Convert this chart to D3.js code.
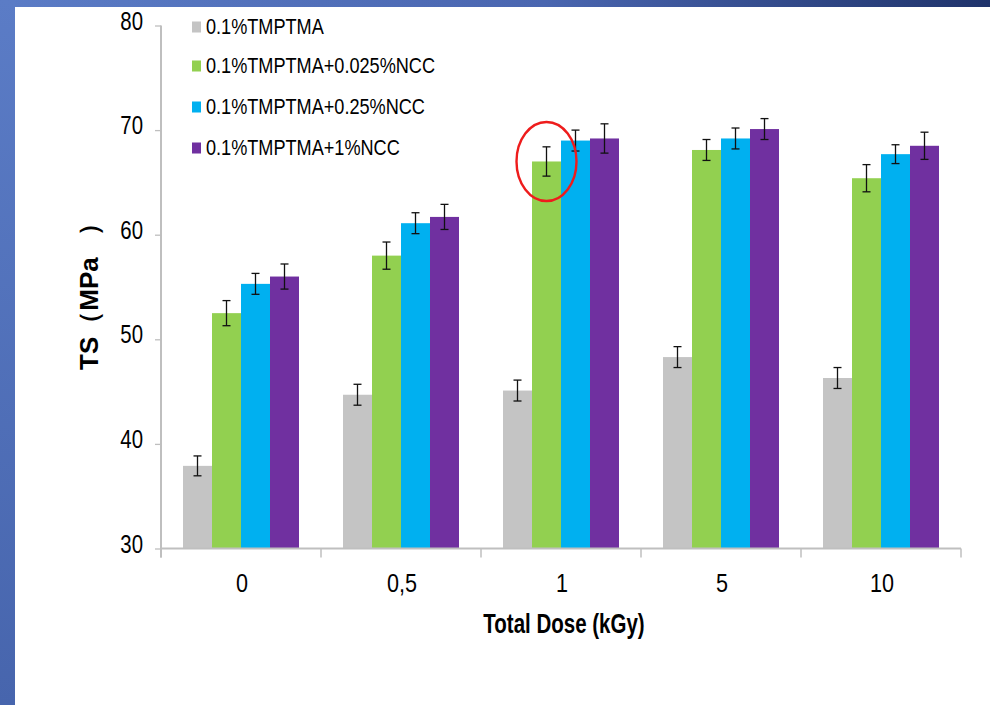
<!DOCTYPE html>
<html>
<head>
<meta charset="utf-8">
<script src="https://cdn.jsdelivr.net/npm/d3@7"></script>
<style>
  html, body { margin: 0; padding: 0; background: #fff; }
  svg { display: block; }
  text { font-family: "Liberation Sans", Arial, sans-serif; fill: #000; }
</style>
</head>
<body>
<svg id="chart" width="990" height="705"></svg>
<script>
// Tensile strength vs. total irradiation dose
const categories = ["0", "0,5", "1", "5", "10"];
const seriesNames = [
  "0.1%TMPTMA",
  "0.1%TMPTMA+0.025%NCC",
  "0.1%TMPTMA+0.25%NCC",
  "0.1%TMPTMA+1%NCC"
];
const seriesColors = ["#c4c4c4", "#92d050", "#00b0f0", "#7030a0"];
// mean TS (MPa) per series, one value per dose
const tmptma      = [37.9, 44.7, 45.1, 48.3, 46.3];
const ncc0025     = [52.5, 58.0, 67.0, 68.1, 65.4];
const ncc025      = [55.3, 61.1, 69.0, 69.2, 67.7];
const ncc1        = [56.0, 61.7, 69.2, 70.1, 68.5];
// standard deviations
const tmptmaErr   = [0.95, 1.0, 1.0, 1.0, 1.0];
const ncc0025Err  = [1.2, 1.3, 1.4, 1.0, 1.3];
const ncc025Err   = [1.0, 1.0, 1.0, 1.0, 0.9];
const ncc1Err     = [1.2, 1.2, 1.4, 1.0, 1.3];
const yTicks = [30, 40, 50, 60, 70, 80];
const xTitle = "Total Dose (kGy)";
const yTitleParts = ["TS（MPa", " ）"];
// highlighted bar: dose "1", second series
const highlight = { category: "1", series: 1 };

const values = [tmptma, ncc0025, ncc025, ncc1];
const errors = [tmptmaErr, ncc0025Err, ncc025Err, ncc1Err];

const svg = d3.select("#chart");

// slide frame
const defs = svg.append("defs");
const gTop = defs.append("linearGradient").attr("id", "frameTop")
  .attr("x1", 0).attr("x2", 1).attr("y1", 0).attr("y2", 0);
gTop.append("stop").attr("offset", 0).attr("stop-color", "#5b7cc6");
gTop.append("stop").attr("offset", 0.55).attr("stop-color", "#4a66b0");
gTop.append("stop").attr("offset", 1).attr("stop-color", "#1f336b");
const gLeft = defs.append("linearGradient").attr("id", "frameLeft")
  .attr("x1", 0).attr("x2", 0).attr("y1", 0).attr("y2", 1);
gLeft.append("stop").attr("offset", 0).attr("stop-color", "#5b7cc6");
gLeft.append("stop").attr("offset", 1).attr("stop-color", "#4765ad");
svg.append("rect").attr("x", 0).attr("y", 0).attr("width", 990).attr("height", 7)
  .attr("fill", "url(#frameTop)");
svg.append("rect").attr("x", 0).attr("y", 0).attr("width", 15).attr("height", 705)
  .attr("fill", "url(#frameLeft)");

const plot = { left: 161, right: 961, top: 25.5, bottom: 548.5 };

const x = d3.scaleBand().domain(categories).range([plot.left, plot.right])
  .paddingInner(0.275).paddingOuter(0.1375);
const xs = d3.scaleBand().domain(d3.range(seriesNames.length)).range([0, x.bandwidth()]);
const y = d3.scaleLinear().domain([30, 80]).range([plot.bottom, plot.top]);

// bars
const groups = svg.append("g").selectAll("g").data(categories).join("g")
  .attr("transform", d => `translate(${x(d)},0)`);
groups.selectAll("rect")
  .data((c, i) => values.map((v, s) => ({ s, v: v[i], e: errors[s][i] })))
  .join("rect")
  .attr("x", d => xs(d.s))
  .attr("y", d => y(d.v))
  .attr("width", xs.bandwidth())
  .attr("height", d => y(30) - y(d.v))
  .attr("fill", d => seriesColors[d.s]);

// error bars
const eb = groups.selectAll("g.err")
  .data((c, i) => values.map((v, s) => ({ s, v: v[i], e: errors[s][i] })))
  .join("g").attr("class", "err")
  .attr("stroke", "#111").attr("stroke-width", 1.3);
eb.append("line")
  .attr("x1", d => xs(d.s) + xs.bandwidth() / 2).attr("x2", d => xs(d.s) + xs.bandwidth() / 2)
  .attr("y1", d => y(d.v + d.e)).attr("y2", d => y(d.v - d.e));
eb.append("line")
  .attr("x1", d => xs(d.s) + xs.bandwidth() / 2 - 4).attr("x2", d => xs(d.s) + xs.bandwidth() / 2 + 4)
  .attr("y1", d => y(d.v + d.e)).attr("y2", d => y(d.v + d.e));
eb.append("line")
  .attr("x1", d => xs(d.s) + xs.bandwidth() / 2 - 4).attr("x2", d => xs(d.s) + xs.bandwidth() / 2 + 4)
  .attr("y1", d => y(d.v - d.e)).attr("y2", d => y(d.v - d.e));

// y axis
const yAxis = svg.append("g").attr("transform", `translate(${plot.left},0)`)
  .call(d3.axisLeft(y).tickValues(yTicks).tickSize(6).tickFormat(() => ""));
yAxis.select(".domain").attr("stroke", "#bfbfbf").attr("stroke-width", 2)
  .attr("d", `M0,${plot.top}V${plot.bottom + 9}`);
yAxis.selectAll(".tick line").attr("stroke", "#bfbfbf").attr("stroke-width", 1.3);
svg.append("g").selectAll("g").data(yTicks).join("g")
  .attr("transform", d => `translate(143,${y(d) + 4}) scale(1,1.3)`)
  .append("text").attr("text-anchor", "end").attr("font-size", 20.4)
  .text(d => d);

// x axis
const xAxis = svg.append("g").attr("transform", `translate(0,${plot.bottom})`)
  .call(d3.axisBottom(x).tickSize(0).tickFormat(() => ""));
xAxis.select(".domain").attr("stroke", "#bfbfbf").attr("stroke-width", 2)
  .attr("d", `M${plot.left},0H${plot.right}`);
const bounds = categories.map(c => x(c) - x.step() * x.paddingInner() / 2).concat([plot.right]);
svg.append("g").selectAll("line").data(bounds).join("line")
  .attr("x1", d => d).attr("x2", d => d)
  .attr("y1", plot.bottom).attr("y2", plot.bottom + 9)
  .attr("stroke", "#bfbfbf").attr("stroke-width", 1.5);
svg.append("g").selectAll("g").data(categories).join("g")
  .attr("transform", d => `translate(${x(d) + x.bandwidth() / 2 + 1},592) scale(1,1.18)`)
  .append("text").attr("text-anchor", "middle").attr("font-size", 21.6)
  .text(d => d);

// axis titles
svg.append("g").attr("transform", "translate(564,633) scale(1,1.31)")
  .append("text").attr("text-anchor", "middle").attr("font-size", 20.5)
  .attr("font-weight", "bold").text(xTitle);
const yt = svg.append("g").attr("transform", "translate(98,370) rotate(-90)")
  .append("text").attr("text-anchor", "start").attr("font-size", 26)
  .attr("font-weight", "bold");
yt.append("tspan").text(yTitleParts[0]);
yt.append("tspan").attr("dx", 14).text(yTitleParts[1]);

// legend
const legend = svg.append("g").selectAll("g").data(seriesNames).join("g")
  .attr("transform", (d, i) => `translate(192,${[27, 66, 107, 148][i]})`);
legend.append("rect").attr("x", 0).attr("y", -5.5).attr("width", 9).attr("height", 11)
  .attr("fill", (d, i) => seriesColors[i]);
legend.append("g").attr("transform", "translate(14,7) scale(0.925,1.15)")
  .append("text").attr("font-size", 19.6).text(d => d);

// highlight ring
const hx = x(highlight.category) + xs(highlight.series) + xs.bandwidth() / 2;
const hy = y(values[highlight.series][categories.indexOf(highlight.category)]);
svg.append("ellipse").attr("cx", hx).attr("cy", hy).attr("rx", 30).attr("ry", 39.5)
  .attr("fill", "none").attr("stroke", "#ee1c1c").attr("stroke-width", 2.4);
</script>
</body>
</html>
